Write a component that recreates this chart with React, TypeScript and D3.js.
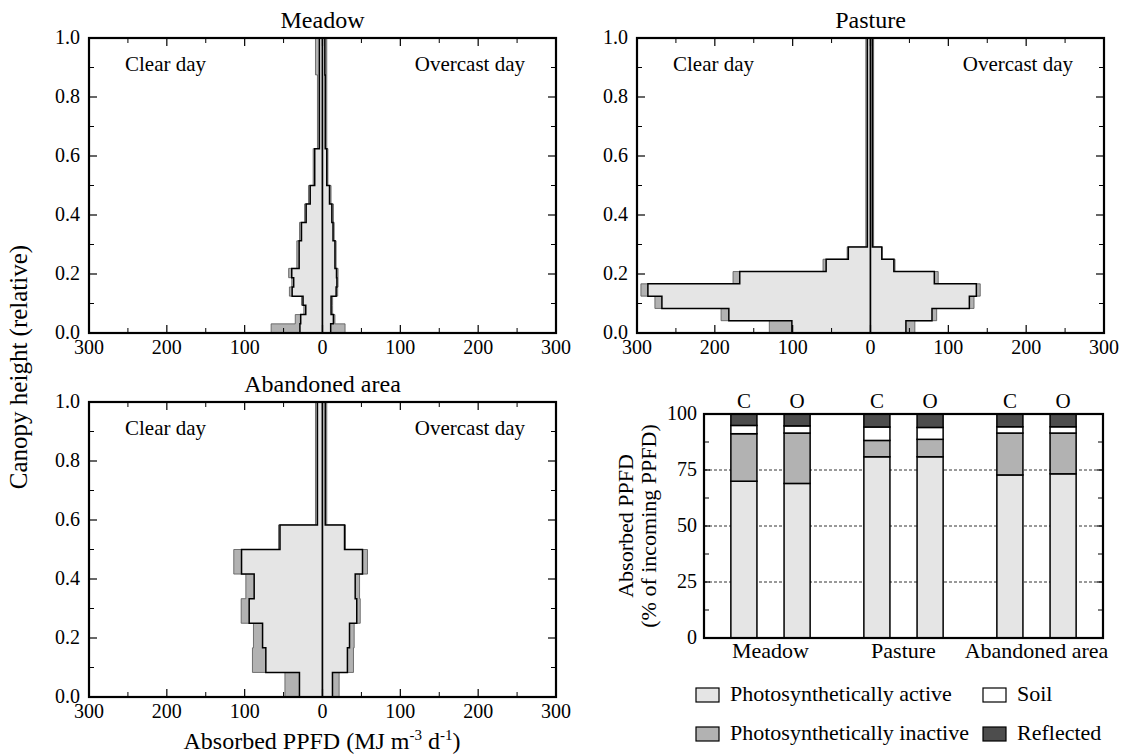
import React from "react";
import * as d3 from "d3";

const FONT = "Liberation Serif";
const C_ACTIVE = "#e5e5e5";
const C_INACTIVE = "#b2b2b2";
const C_SOIL = "#ffffff";
const C_REFLECTED = "#4d4d4d";

// ---------- profile panels ----------
const profileXTicks = [-300, -200, -100, 0, 100, 200, 300];
const profileXMinor = [-250, -150, -50, 50, 150, 250];
const profileYTicks = [0, 0.2, 0.4, 0.6, 0.8, 1.0];
const profileYMinor = [0.1, 0.3, 0.5, 0.7, 0.9];

const meadowEdges = [0, 0.031, 0.0625, 0.094, 0.125, 0.156, 0.1875, 0.219, 0.3125, 0.375, 0.4375, 0.5, 0.625, 0.875, 1.0];
const meadowClearActive = [29, 28, 21.5, 25, 39, 37, 39.5, 30, 27, 21, 15.8, 10, 4, 4];
const meadowClearTotal = [66, 35, 24, 27, 42.5, 39.5, 43.5, 33, 29.5, 23, 18, 12, 6.5, 9];
const meadowOverActive = [10.5, 14, 11, 11, 17.5, 18.5, 18, 16, 13.5, 12, 9, 5.5, 3.5, 3];
const meadowOverTotal = [29, 16, 13, 13, 19.5, 20, 20, 17.5, 15, 14, 11, 7, 5.5, 5.5];

const pastureEdges = [0, 0.0417, 0.0833, 0.125, 0.1667, 0.2083, 0.25, 0.2917, 1.0];
const pastureClearActive = [101, 182, 268, 286, 168, 57, 28.5, 4];
const pastureClearTotal = [130, 192, 277, 295, 176.6, 61, 30, 6];
const pastureOverActive = [45.5, 79, 127, 136, 82, 30, 14.5, 2.5];
const pastureOverTotal = [57, 85, 133, 141, 87, 31.5, 15, 4];

const abandonedEdges = [0, 0.0833, 0.1667, 0.25, 0.3333, 0.4167, 0.5, 0.5833, 1.0];
const abandonedClearActive = [29.6, 72.8, 77, 94.2, 87.8, 104, 54.6, 6.5];
const abandonedClearTotal = [48.3, 90, 88.7, 104.5, 98.5, 114, 56.5, 9];
const abandonedOverActive = [12.8, 32, 34.7, 44, 42, 51.4, 28.3, 3.5];
const abandonedOverTotal = [21.4, 39.8, 40.7, 48.5, 47.6, 57.8, 29.5, 5.5];

// ---------- bar chart ----------
const barGroups = ["Meadow", "Pasture", "Abandoned area"];
const barGroupCenters = [2.5, 7.5, 12.5];
const barLabels = ["C", "O", "C", "O", "C", "O"];
const barPositions = [1.5, 3.5, 6.5, 8.5, 11.5, 13.5];
const activeShare = [70.0, 69.0, 80.9, 80.9, 72.8, 73.3];
const inactiveShare = [21.2, 22.5, 7.3, 7.8, 18.7, 18.2];
const soilShare = [3.7, 3.2, 6.0, 5.3, 2.8, 2.8];
const reflectedShare = [5.1, 5.3, 5.8, 6.0, 5.7, 5.7];
const barYTicks = [0, 25, 50, 75, 100];
const barYMinor = [12.5, 37.5, 62.5, 87.5];
const barGrid = [25, 50, 75];

const legendItems = [
  { label: "Photosynthetically active", color: C_ACTIVE },
  { label: "Soil", color: C_SOIL },
  { label: "Photosynthetically inactive", color: C_INACTIVE },
  { label: "Reflected", color: C_REFLECTED },
];

type ProfileProps = {
  left: number; right: number; top: number; bottom: number; title: string;
  edges: number[]; clearAct: number[]; clearTot: number[]; overAct: number[]; overTot: number[];
};

function Profile(p: ProfileProps) {
  const x = d3.scaleLinear().domain([-300, 300]).range([p.left, p.right]);
  const y = d3.scaleLinear().domain([0, 1]).range([p.bottom, p.top]);
  const line = d3.line<[number, number]>().x((d) => x(d[0])).y((d) => y(d[1]));
  const stepPath = (vals: number[], sign: number) => {
    const pts: [number, number][] = [[0, 0]];
    vals.forEach((v, i) => {
      pts.push([sign * v, p.edges[i]]);
      pts.push([sign * v, p.edges[i + 1]]);
    });
    pts.push([0, 1]);
    return (line(pts) || "") + "Z";
  };
  return (
    <g>
      <path d={stepPath(p.clearTot, -1)} fill={C_INACTIVE} stroke="#555" strokeWidth={0.8} />
      <path d={stepPath(p.overTot, 1)} fill={C_INACTIVE} stroke="#555" strokeWidth={0.8} />
      <path d={stepPath(p.clearAct, -1)} fill={C_ACTIVE} stroke="#000" strokeWidth={1.5} />
      <path d={stepPath(p.overAct, 1)} fill={C_ACTIVE} stroke="#000" strokeWidth={1.5} />
      <line x1={x(0)} x2={x(0)} y1={y(0)} y2={y(1)} stroke="#000" strokeWidth={1} />
      {profileXTicks.map((t) => (
        <g key={"xt" + t}>
          <line x1={x(t)} x2={x(t)} y1={p.bottom} y2={p.bottom - 8} stroke="#000" strokeWidth={1.2} />
          <line x1={x(t)} x2={x(t)} y1={p.top} y2={p.top + 8} stroke="#000" strokeWidth={1.2} />
          <text x={x(t)} y={p.bottom + 21} textAnchor="middle" fontSize={20} fontFamily="'Liberation Serif'" style={{ fontFamily: FONT }}>{Math.abs(t)}</text>
        </g>
      ))}
      {profileXMinor.map((t) => (
        <g key={"xm" + t}>
          <line x1={x(t)} x2={x(t)} y1={p.bottom} y2={p.bottom - 5} stroke="#000" strokeWidth={1} />
          <line x1={x(t)} x2={x(t)} y1={p.top} y2={p.top + 5} stroke="#000" strokeWidth={1} />
        </g>
      ))}
      {profileYTicks.map((t) => (
        <g key={"yt" + t}>
          <line x1={p.left} x2={p.left + 8} y1={y(t)} y2={y(t)} stroke="#000" strokeWidth={1.2} />
          <line x1={p.right} x2={p.right - 8} y1={y(t)} y2={y(t)} stroke="#000" strokeWidth={1.2} />
          <text x={p.left - 9} y={y(t) + 6} textAnchor="end" fontSize={20} fontFamily="'Liberation Serif'" style={{ fontFamily: FONT }}>{t.toFixed(1)}</text>
        </g>
      ))}
      {profileYMinor.map((t) => (
        <g key={"ym" + t}>
          <line x1={p.left} x2={p.left + 5} y1={y(t)} y2={y(t)} stroke="#000" strokeWidth={1} />
          <line x1={p.right} x2={p.right - 5} y1={y(t)} y2={y(t)} stroke="#000" strokeWidth={1} />
        </g>
      ))}
      <rect x={p.left} y={p.top} width={p.right - p.left} height={p.bottom - p.top} fill="none" stroke="#000" strokeWidth={2.2} />
      <text x={(p.left + p.right) / 2} y={p.top - 10} textAnchor="middle" fontSize={24} fontFamily="'Liberation Serif'" style={{ fontFamily: FONT }}>{p.title}</text>
      <text x={p.left + 36} y={p.top + 33} fontSize={21} fontFamily="'Liberation Serif'" style={{ fontFamily: FONT }}>Clear day</text>
      <text x={p.right - 31} y={p.top + 33} textAnchor="end" fontSize={21} fontFamily="'Liberation Serif'" style={{ fontFamily: FONT }}>Overcast day</text>
    </g>
  );
}

function Bars() {
  const left = 704, right = 1103, top = 414, bottom = 638;
  const x = d3.scaleLinear().domain([0, 15]).range([left, right]);
  const y = d3.scaleLinear().domain([0, 100]).range([bottom, top]);
  const rows = barPositions.map((pos, i) => ({
    pos,
    active: activeShare[i],
    inactive: inactiveShare[i],
    soil: soilShare[i],
    reflected: reflectedShare[i],
  }));
  const keys = ["active", "inactive", "soil", "reflected"];
  const colors: Record<string, string> = { active: C_ACTIVE, inactive: C_INACTIVE, soil: C_SOIL, reflected: C_REFLECTED };
  const stacked = d3.stack<any>().keys(keys)(rows);
  const bw = x(0.98) - x(0);
  const ff = { fontFamily: FONT };
  return (
    <g>
      {barGrid.map((g) => (
        <line key={"g" + g} x1={left} x2={right} y1={y(g)} y2={y(g)} stroke="#000" strokeWidth={0.8} strokeDasharray="3,2" />
      ))}
      {stacked.map((layer) => (
        <g key={layer.key}>
          {layer.map((d, i) => (
            <rect key={i} x={x(rows[i].pos) - bw / 2} y={y(d[1])} width={bw} height={y(d[0]) - y(d[1])}
              fill={colors[layer.key]} stroke="#000" strokeWidth={1.5} />
          ))}
        </g>
      ))}
      {barYTicks.map((t) => (
        <g key={"bt" + t}>
          <line x1={left} x2={left + 6} y1={y(t)} y2={y(t)} stroke="#000" strokeWidth={1.2} />
          <line x1={right} x2={right - 6} y1={y(t)} y2={y(t)} stroke="#000" strokeWidth={1.2} />
          <text x={left - 7} y={y(t) + 6} textAnchor="end" fontSize={20} fontFamily="'Liberation Serif'" style={ff}>{t}</text>
        </g>
      ))}
      {barYMinor.map((t) => (
        <g key={"bm" + t}>
          <line x1={left} x2={left + 5} y1={y(t)} y2={y(t)} stroke="#000" strokeWidth={1} />
          <line x1={right} x2={right - 5} y1={y(t)} y2={y(t)} stroke="#000" strokeWidth={1} />
        </g>
      ))}
      <rect x={left} y={top} width={right - left} height={bottom - top} fill="none" stroke="#000" strokeWidth={2.2} />
      {barLabels.map((l, i) => (
        <text key={"cl" + i} x={x(barPositions[i])} y={top - 6} textAnchor="middle" fontSize={21} fontFamily="'Liberation Serif'" style={ff}>{l}</text>
      ))}
      {barGroups.map((g, i) => (
        <text key={"gl" + i} x={x(barGroupCenters[i])} y={bottom + 20} textAnchor="middle" fontSize={22} fontFamily="'Liberation Serif'" style={ff}>{g}</text>
      ))}
      <text transform={`translate(633,${(top + bottom) / 2}) rotate(-90)`} textAnchor="middle" fontSize={22} fontFamily="'Liberation Serif'" style={ff}>Absorbed PPFD</text>
      <text transform={`translate(656,${(top + bottom) / 2}) rotate(-90)`} textAnchor="middle" fontSize={22} fontFamily="'Liberation Serif'" style={ff}>(% of incoming PPFD)</text>
      {legendItems.map((it, i) => {
        const col = i % 2;
        const row = Math.floor(i / 2);
        const sx = col === 0 ? 696 : 983;
        const sy = row === 0 ? 688 : 727;
        return (
          <g key={"lg" + i}>
            <rect x={sx} y={sy} width={23} height={14} fill={it.color} stroke="#000" strokeWidth={1.2} />
            <text x={sx + 34} y={sy + 13} fontSize={22} fontFamily="'Liberation Serif'" style={ff}>{it.label}</text>
          </g>
        );
      })}
    </g>
  );
}

export default function App() {
  return (
    <svg width={1127} height={755} style={{ position: "absolute", left: 0, top: 0 }}>
      <style>{"text { font-family: 'Liberation Serif', serif; }"}</style>
      <rect x={0} y={0} width={1127} height={755} fill="#fff" />
      <Profile left={89} right={556} top={38} bottom={333} title="Meadow" edges={meadowEdges}
        clearAct={meadowClearActive} clearTot={meadowClearTotal} overAct={meadowOverActive} overTot={meadowOverTotal} />
      <Profile left={637} right={1104} top={38} bottom={333} title="Pasture" edges={pastureEdges}
        clearAct={pastureClearActive} clearTot={pastureClearTotal} overAct={pastureOverActive} overTot={pastureOverTotal} />
      <Profile left={89} right={556} top={402} bottom={697} title="Abandoned area" edges={abandonedEdges}
        clearAct={abandonedClearActive} clearTot={abandonedClearTotal} overAct={abandonedOverActive} overTot={abandonedOverTotal} />
      <Bars />
      <text transform="translate(27,367) rotate(-90)" textAnchor="middle" fontSize={25} fontFamily="'Liberation Serif'" style={{ fontFamily: FONT }}>Canopy height (relative)</text>
      <text x={322} y={749} textAnchor="middle" fontSize={24} fontFamily="'Liberation Serif'" style={{ fontFamily: FONT }}>
        Absorbed PPFD (MJ m<tspan dy={-9} fontSize={15}>-3</tspan><tspan dy={9}> d</tspan><tspan dy={-9} fontSize={15}>-1</tspan><tspan dy={9}>)</tspan>
      </text>
    </svg>
  );
}
